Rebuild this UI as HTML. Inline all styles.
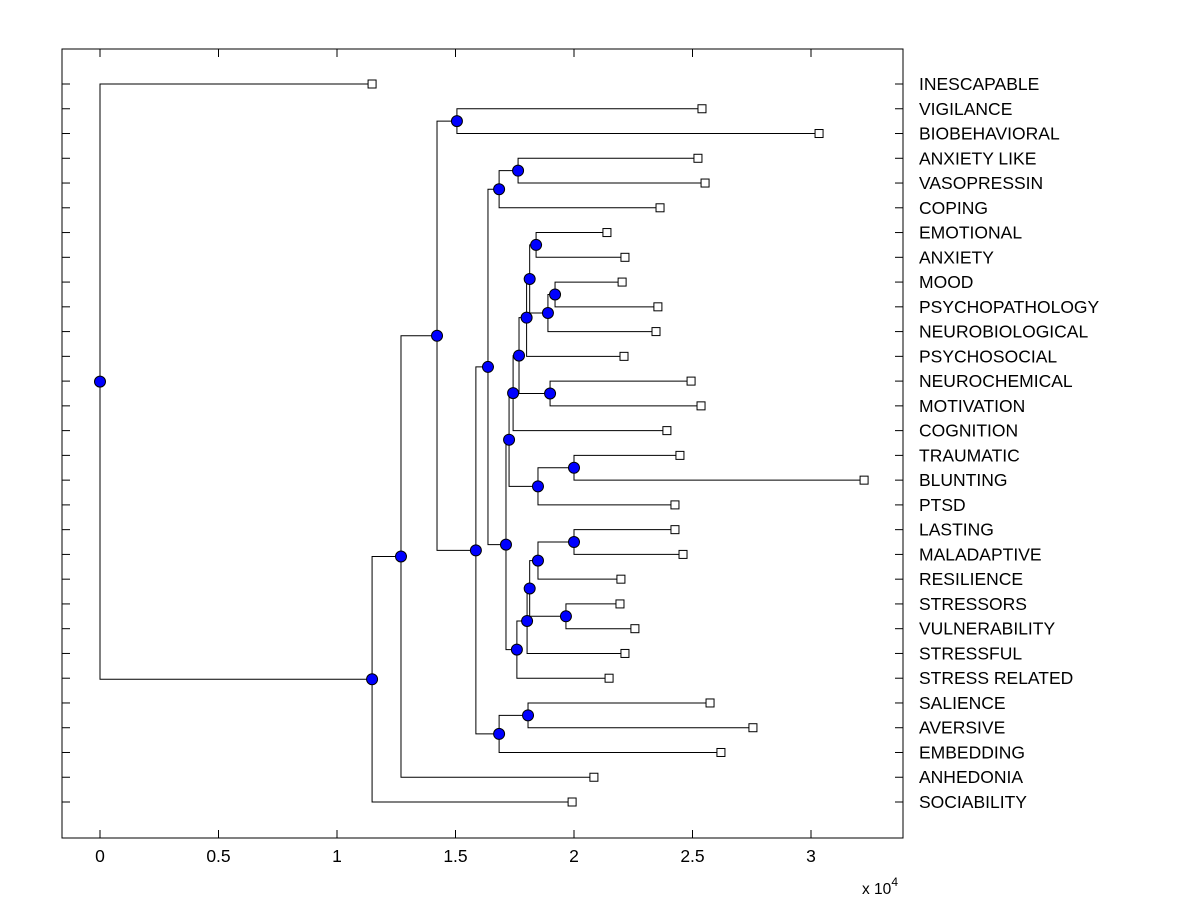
<!DOCTYPE html>
<html><head><meta charset="utf-8"><style>
body{margin:0;background:#fff}
svg text{font-family:"Liberation Sans",Arial,sans-serif}
</style></head><body>
<svg id="chart" width="1200" height="900" viewBox="0 0 1200 900" xmlns="http://www.w3.org/2000/svg">
<rect width="1200" height="900" fill="#fff"/>
<g id="axes"></g>
<g id="links"></g>
<g id="marks"></g>
</svg>
<script>
const leafLabels = ["INESCAPABLE","VIGILANCE","BIOBEHAVIORAL","ANXIETY LIKE","VASOPRESSIN","COPING","EMOTIONAL","ANXIETY","MOOD","PSYCHOPATHOLOGY","NEUROBIOLOGICAL","PSYCHOSOCIAL","NEUROCHEMICAL","MOTIVATION","COGNITION","TRAUMATIC","BLUNTING","PTSD","LASTING","MALADAPTIVE","RESILIENCE","STRESSORS","VULNERABILITY","STRESSFUL","STRESS RELATED","SALIENCE","AVERSIVE","EMBEDDING","ANHEDONIA","SOCIABILITY"];
const leafValues = [1.148,2.54,3.034,2.523,2.553,2.363,2.139,2.215,2.203,2.354,2.346,2.211,2.494,2.536,2.392,2.447,3.224,2.426,2.426,2.46,2.198,2.194,2.257,2.215,2.148,2.574,2.755,2.62,2.084,1.992];
const nodeChildren = [
 ["L6","L7"],["L8","L9"],["N1","L10"],["N0","N2"],["N3","L11"],["L12","L13"],["N4","N5"],["N6","L14"],
 ["L15","L16"],["N8","L17"],["N7","N9"],["L18","L19"],["N11","L20"],["L21","L22"],["N12","N13"],["N14","L23"],
 ["N15","L24"],["N10","N16"],["L3","L4"],["N18","L5"],["N19","N17"],["L25","L26"],["N21","L27"],["N20","N22"],
 ["L1","L2"],["N24","N23"],["N25","L28"],["N26","L29"],["L0","N27"]
];
const nodeValues = [1.84,1.92,1.89,1.813,1.80,1.899,1.768,1.743,2.0,1.848,1.726,2.0,1.848,1.966,1.813,1.802,1.759,1.713,1.764,1.684,1.637,1.806,1.684,1.586,1.506,1.422,1.27,1.148,0];
const xTicks = [0,0.5,1,1.5,2,2.5,3];

const X0=62,X1=903,Y0=49,Y1=838;
const xs = v => 100 + v*237;
const rowY = i => 84 + i*(802-84)/29;
const NS="http://www.w3.org/2000/svg";
function mk(tag, attrs, parent){const e=document.createElementNS(NS,tag);for(const k in attrs)e.setAttribute(k,attrs[k]);parent.appendChild(e);return e;}
const axes=document.getElementById('axes'),links=document.getElementById('links'),marks=document.getElementById('marks');

let r=mk('rect',{x:X0,y:Y0,width:X1-X0,height:Y1-Y0,fill:'none',stroke:'#000','stroke-width':1},axes);


xTicks.forEach(t=>{
  const x=xs(t);
  let l=mk('line',{x1:x,x2:x,y1:Y1,y2:Y1-8,stroke:'#000'},axes);
  
  
  mk('line',{x1:x,x2:x,y1:Y0,y2:Y0+8,stroke:'#000'},axes);
  let tx=mk('text',{x:x,y:862,'text-anchor':'middle','font-size':17.5},axes);
  tx.textContent=String(t);
  
  
});
let ex=mk('text',{x:862,y:894,'font-size':15.5},axes);
ex.innerHTML='x 10<tspan dy="-8" font-size="12">4</tspan>';



leafLabels.forEach((lab,i)=>{
  const y=rowY(i);
  mk('line',{x1:X0,x2:X0+8,y1:y,y2:y,stroke:'#000'},axes);
  mk('line',{x1:X1,x2:X1-8,y1:y,y2:y,stroke:'#000'},axes);
  let t=mk('text',{x:919,y:y+6,'font-size':17.5},axes);
  t.textContent=lab;
  
  
});

const pos={};
leafValues.forEach((v,i)=>pos['L'+i]={x:xs(v),y:rowY(i)});
nodeChildren.forEach((c,i)=>{
  const a=pos[c[0]],b=pos[c[1]],x=xs(nodeValues[i]);
  pos['N'+i]={x:x,y:(a.y+b.y)/2};
  let p=mk('path',{d:`M${a.x},${a.y}H${x}V${b.y}H${b.x}`,fill:'none',stroke:'#000','stroke-width':1},links);
  
  
});
leafValues.forEach((v,i)=>{
  const p=pos['L'+i];
  let s=mk('rect',{x:p.x-4,y:p.y-4,width:8,height:8,fill:'#fff',stroke:'#000'},marks);
  
  
});
nodeChildren.forEach((c,i)=>{
  const p=pos['N'+i];
  let d=mk('circle',{cx:p.x,cy:p.y,r:5.5,fill:'#0000ff',stroke:'#000','stroke-width':1},marks);
  
  
});
</script>
</body></html>
